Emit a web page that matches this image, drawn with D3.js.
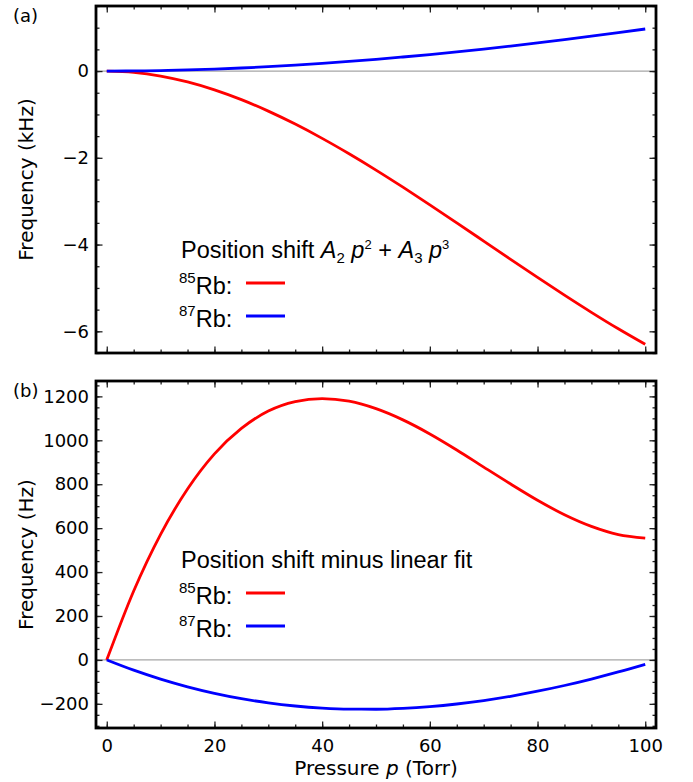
<!DOCTYPE html>
<html>
<head>
<meta charset="utf-8">
<script src="https://cdn.jsdelivr.net/npm/d3@7"></script>
<style>
  html, body { margin: 0; padding: 0; background: #fff; }
  svg { display: block; }
  .tick text { font-family: "DejaVu Sans", sans-serif; font-size: 18px; fill: #000; }
  .tick line { stroke: #222; stroke-width: 1.3px; }
</style>
</head>
<body>
<svg id="chart" width="693" height="782"></svg>
<script>
// ---------------- data ----------------
const pressure = [0, 5, 10, 15, 20, 25, 30, 35, 40, 45, 50, 55, 60, 65, 70, 75, 80, 85, 90, 95, 100];
// (a) position shift A2 p^2 + A3 p^3, kHz
const shift85 = [0, -0.029, -0.114, -0.250, -0.433, -0.659, -0.924, -1.223, -1.552, -1.907, -2.283,
                 -2.677, -3.084, -3.500, -3.920, -4.341, -4.757, -5.166, -5.562, -5.942, -6.300];
const shift87 = [0, 0.003, 0.012, 0.026, 0.046, 0.071, 0.101, 0.137, 0.177, 0.221, 0.270,
                 0.324, 0.381, 0.443, 0.508, 0.577, 0.649, 0.725, 0.804, 0.886, 0.970];
// (b) position shift minus linear fit, Hz
const resid85 = [0, 314, 572, 778, 938, 1054, 1133, 1176, 1190, 1178, 1144,
                 1093, 1029, 956, 878, 801, 727, 661, 608, 571, 555];
const resid87 = [0, -46.6, -87.3, -122.4, -152.1, -176.4, -195.7, -209.9, -219.4, -224.2, -224.6,
                 -220.7, -212.7, -200.7, -184.9, -165.5, -142.6, -116.5, -87.2, -54.9, -19.9];

const xTicks = [0, 20, 40, 60, 80, 100];
const yTicksA = [-6, -4, -2, 0];
const yTicksB = [-200, 0, 200, 400, 600, 800, 1000, 1200];
const panelLabels = ["(a)", "(b)"];
const yTitles = ["Frequency (kHz)", "Frequency (Hz)"];
const legendTitleB = "Position shift minus linear fit";
const isotopes = ["85", "87"];

// ---------------- layout ----------------
const svg = d3.select("#chart");
const X0 = 96, X1 = 656;
const panels = [
  { top: 6, bottom: 353, domain: [-6.5, 1.5], major: yTicksA, minorStep: 0.5,
    series: [shift85, shift87], label: panelLabels[0], title: yTitles[0], showX: false },
  { top: 381, bottom: 728, domain: [-310, 1270], major: yTicksB, minorStep: 50,
    series: [resid85, resid87], label: panelLabels[1], title: yTitles[1], showX: true }
];
const colors = ["#ff0000", "#0000ff"];
const x = d3.scaleLinear().domain([-2, 102]).range([X0, X1]);
const xMinor = d3.range(0, 100.1, 5);
const fmt = d => (d < 0 ? "\u2212" + Math.abs(d) : String(d));

panels.forEach((P, i) => {
  const y = d3.scaleLinear().domain(P.domain).range([P.bottom, P.top]);
  const g = svg.append("g");
  const yMinor = d3.range(Math.ceil(P.domain[0] / P.minorStep) * P.minorStep, P.domain[1] + 1e-9, P.minorStep);

  // zero line
  g.append("line").attr("x1", X0).attr("x2", X1).attr("y1", y(0)).attr("y2", y(0))
    .attr("stroke", "#a6a6a6").attr("stroke-width", 1.2);

  // minor ticks (all four sides)
  const addAxis = (axis, tx, ty) => {
    const a = g.append("g").attr("transform", `translate(${tx},${ty})`).call(axis);
    a.select(".domain").remove();
    return a;
  };
  addAxis(d3.axisBottom(x).tickValues(xMinor).tickSize(-3.5).tickFormat(""), 0, P.bottom);
  addAxis(d3.axisTop(x).tickValues(xMinor).tickSize(-3.5).tickFormat(""), 0, P.top);
  addAxis(d3.axisLeft(y).tickValues(yMinor).tickSize(-3.5).tickFormat(""), X0, 0);
  addAxis(d3.axisRight(y).tickValues(yMinor).tickSize(-3.5).tickFormat(""), X1, 0);
  // major ticks
  addAxis(d3.axisBottom(x).tickValues(xTicks).tickSize(-6.5).tickPadding(11)
    .tickFormat(P.showX ? fmt : ""), 0, P.bottom);
  addAxis(d3.axisTop(x).tickValues(xTicks).tickSize(-6.5).tickFormat(""), 0, P.top);
  addAxis(d3.axisLeft(y).tickValues(P.major).tickSize(-6.5).tickPadding(7).tickFormat(fmt), X0, 0);
  addAxis(d3.axisRight(y).tickValues(P.major).tickSize(-6.5).tickFormat(""), X1, 0);

  // curves
  const line = d3.line().x((d, j) => x(pressure[j])).y(d => y(d)).curve(d3.curveMonotoneX);
  P.series.forEach((s, k) => {
    g.append("path").datum(s).attr("d", line).attr("fill", "none")
      .attr("stroke", colors[k]).attr("stroke-width", 2.8).attr("stroke-linecap", "butt");
  });

  // frame
  g.append("rect").attr("x", X0).attr("y", P.top).attr("width", X1 - X0).attr("height", P.bottom - P.top)
    .attr("fill", "none").attr("stroke", "#000").attr("stroke-width", 2.8);

  // y title
  g.append("text").attr("transform", `translate(33,${(P.top + P.bottom) / 2}) rotate(-90)`)
    .attr("text-anchor", "middle").attr("font-family", "DejaVu Sans, sans-serif").attr("font-size", 20)
    .text(P.title);

  // panel label
  g.append("text").attr("x", 13).attr("y", P.top + 16).attr("font-family", "DejaVu Sans, sans-serif")
    .attr("font-size", 18).text(P.label);
});

// x title
const xt = svg.append("text").attr("x", 376).attr("y", 775).attr("text-anchor", "middle")
  .attr("font-family", "DejaVu Sans, sans-serif").attr("font-size", 20);
xt.append("tspan").text("Pressure ");
xt.append("tspan").attr("font-style", "italic").text("p");
xt.append("tspan").text(" (Torr)");

// legends
const LF = "Liberation Sans, Arial, sans-serif";
function legend(titleBuilder, baseY) {
  const t = svg.append("text").attr("x", 181).attr("y", baseY).attr("font-family", LF).attr("font-size", 23.5);
  titleBuilder(t);
  isotopes.forEach((iso, k) => {
    const by = baseY + 36 + k * 33;
    const tx = svg.append("text").attr("x", 179).attr("y", by).attr("font-family", LF).attr("font-size", 23.5);
    tx.append("tspan").attr("font-size", 15).attr("dy", -11.5).text(iso);
    tx.append("tspan").attr("dy", 11.5).text("Rb:");
    svg.append("line").attr("x1", 246).attr("x2", 285).attr("y1", by - 11).attr("y2", by - 11)
      .attr("stroke", colors[k]).attr("stroke-width", 2.8);
  });
}
legend(t => {
  t.append("tspan").text("Position shift ");
  t.append("tspan").attr("font-style", "italic").text("A");
  t.append("tspan").attr("font-size", 15).attr("dy", 5).text("2");
  t.append("tspan").attr("font-style", "italic").attr("dy", -5).text(" p");
  t.append("tspan").attr("font-size", 13).attr("dy", -9).text("2");
  t.append("tspan").attr("dy", 9).text(" + ");
  t.append("tspan").attr("font-style", "italic").text("A");
  t.append("tspan").attr("font-size", 15).attr("dy", 5).text("3");
  t.append("tspan").attr("font-style", "italic").attr("dy", -5).text(" p");
  t.append("tspan").attr("font-size", 13).attr("dy", -9).text("3");
}, 258);
legend(t => t.text(legendTitleB), 568);
</script>
</body>
</html>
